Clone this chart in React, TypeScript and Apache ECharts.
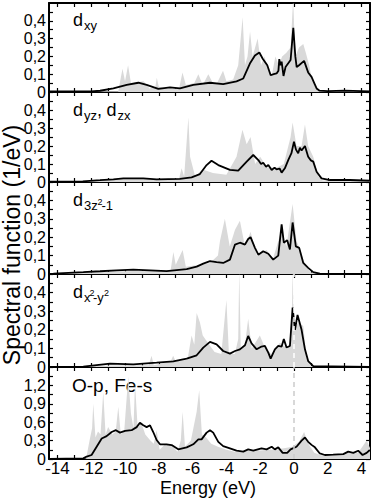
import React, { useEffect, useRef } from "react";
import * as echarts from "echarts";

const E_MIN = -14.5;
const E_MAX = 4.5;
const xTickValues = [-14, -13, -12, -11, -10, -9, -8, -7, -6, -5, -4, -3, -2, -1, 0, 1, 2, 3, 4];
const xLabelValues = [-14, -12, -10, -8, -6, -4, -2, 0, 2, 4];
const dTickValues = [0, 0.05, 0.1, 0.15, 0.2, 0.25, 0.3, 0.35, 0.4, 0.45];
const dLabelValues = [0, 0.1, 0.2, 0.3, 0.4];
const opTickValues = [0, 0.15, 0.3, 0.45, 0.6, 0.75, 0.9, 1.05, 1.2, 1.35];
const opLabelValues = [0, 0.3, 0.6, 0.9, 1.2];

const dxyLine = [[-14.5,0.003],[-12.0,0.004],[-11.48,0.007],[-10.69,0.02],[-9.9,0.04],[-9.21,0.052],[-8.72,0.04],[-8.03,0.018],[-7.34,0.026],[-6.75,0.02],[-5.96,0.04],[-4.97,0.052],[-4.19,0.044],[-3.4,0.06],[-3.0,0.076],[-2.61,0.16],[-2.31,0.205],[-2.05,0.222],[-1.85,0.187],[-1.58,0.15],[-1.38,0.094],[-1.2,0.1],[-1.03,0.104],[-0.92,0.12],[-0.87,0.185],[-0.8,0.15],[-0.73,0.17],[-0.62,0.09],[-0.5,0.14],[-0.35,0.16],[-0.2,0.18],[-0.04,0.36],[0.08,0.2],[0.16,0.14],[0.3,0.15],[0.6,0.175],[0.84,0.11],[1.04,0.085],[1.2,0.05],[1.34,0.02],[1.5,0.008],[2.0,0.005],[3.0,0.008],[4.5,0.004]];
const dxyFill = [[-14.5,0.003],[-10.4,0.004],[-10.15,0.13],[-10.0,0.06],[-9.82,0.15],[-9.65,0.05],[-9.3,0.055],[-8.9,0.06],[-8.55,0.02],[-8.2,0.03],[-8.12,0.08],[-8.0,0.03],[-7.5,0.02],[-6.8,0.02],[-6.6,0.11],[-6.4,0.04],[-5.9,0.05],[-5.66,0.1],[-5.4,0.04],[-5.07,0.1],[-4.8,0.05],[-4.55,0.05],[-4.2,0.12],[-4.0,0.06],[-3.6,0.07],[-3.3,0.15],[-3.04,0.42],[-2.9,0.15],[-2.75,0.2],[-2.6,0.34],[-2.45,0.2],[-2.15,0.3],[-1.95,0.15],[-1.75,0.2],[-1.5,0.12],[-1.3,0.1],[-1.1,0.2],[-0.9,0.15],[-0.7,0.2],[-0.45,0.22],[-0.2,0.25],[-0.05,0.52],[0.08,0.2],[0.3,0.25],[0.55,0.27],[0.7,0.22],[0.9,0.15],[1.04,0.08],[1.3,0.02],[1.55,0.005],[4.5,0.005]];

const dyzLine = [[-14.5,0.002],[-12.5,0.004],[-11.48,0.01],[-10.69,0.015],[-10.1,0.02],[-8.92,0.02],[-8.13,0.015],[-6.75,0.017],[-6.06,0.026],[-5.57,0.044],[-5.17,0.094],[-4.88,0.118],[-4.48,0.094],[-3.79,0.067],[-3.3,0.063],[-2.8,0.113],[-2.41,0.15],[-2.11,0.122],[-1.95,0.1],[-1.82,0.107],[-1.65,0.085],[-1.52,0.094],[-1.32,0.067],[-1.15,0.08],[-1.03,0.07],[-0.85,0.075],[-0.73,0.052],[-0.54,0.076],[-0.34,0.122],[-0.15,0.16],[0.0,0.224],[0.12,0.18],[0.25,0.16],[0.35,0.19],[0.45,0.175],[0.65,0.2],[0.84,0.14],[1.0,0.12],[1.14,0.113],[1.34,0.057],[1.63,0.02],[2.13,0.011],[3.31,0.011],[4.5,0.007]];
const dyzFill = [[-14.5,0.002],[-11.5,0.008],[-10,0.02],[-8,0.015],[-6.8,0.02],[-6.65,0.076],[-6.5,0.03],[-6.25,0.36],[-6.15,0.14],[-5.85,0.03],[-5.4,0.07],[-4.8,0.05],[-4.0,0.04],[-3.4,0.14],[-3.05,0.29],[-2.8,0.21],[-2.57,0.25],[-2.3,0.1],[-2.0,0.14],[-1.6,0.08],[-1.0,0.08],[-0.6,0.1],[-0.2,0.25],[-0.08,0.33],[0.15,0.2],[0.45,0.2],[0.65,0.32],[0.84,0.2],[1.14,0.14],[1.44,0.03],[1.7,0.008],[4.5,0.005]];

const d3zLine = [[-14.5,0.001],[-14.24,0.002],[-12.47,0.01],[-11.48,0.015],[-10.5,0.02],[-9.51,0.024],[-8.52,0.02],[-7.54,0.016],[-6.35,0.027],[-5.76,0.04],[-5.37,0.056],[-4.97,0.07],[-4.58,0.064],[-4.19,0.06],[-3.79,0.078],[-3.49,0.16],[-3.2,0.17],[-2.9,0.16],[-2.71,0.19],[-2.57,0.2],[-2.31,0.142],[-2.11,0.105],[-1.82,0.124],[-1.52,0.11],[-1.23,0.078],[-0.93,0.1],[-0.73,0.27],[-0.6,0.17],[-0.4,0.184],[-0.24,0.133],[-0.08,0.28],[0.11,0.15],[0.31,0.142],[0.55,0.06],[0.84,0.033],[1.14,0.01],[1.53,0.002],[4.5,0.0]];
const d3zFill = [[-14.5,0.002],[-10,0.015],[-8,0.02],[-7.3,0.02],[-7.14,0.12],[-7.0,0.05],[-6.59,0.13],[-6.4,0.04],[-5.6,0.05],[-4.97,0.06],[-4.5,0.1],[-4.38,0.18],[-4.09,0.3],[-3.8,0.15],[-3.49,0.24],[-3.2,0.29],[-2.9,0.15],[-2.57,0.23],[-2.2,0.1],[-1.62,0.13],[-1.25,0.08],[-0.73,0.24],[-0.45,0.15],[-0.08,0.38],[0.15,0.18],[0.42,0.12],[0.7,0.04],[1.0,0.008],[1.5,0.002],[4.5,0.002]];

const dx2Line = [[-14.5,0.0],[-12.47,0.002],[-10.89,0.018],[-9.51,0.014],[-8.13,0.023],[-7.14,0.03],[-6.35,0.045],[-5.76,0.063],[-5.37,0.104],[-4.97,0.135],[-4.58,0.122],[-4.19,0.086],[-3.79,0.072],[-3.49,0.086],[-3.2,0.095],[-2.9,0.117],[-2.71,0.167],[-2.51,0.127],[-2.21,0.095],[-1.92,0.11],[-1.72,0.113],[-1.52,0.077],[-1.38,0.045],[-1.13,0.095],[-0.93,0.113],[-0.73,0.11],[-0.6,0.15],[-0.44,0.105],[-0.24,0.113],[-0.08,0.32],[0.06,0.2],[0.21,0.28],[0.45,0.2],[0.65,0.095],[0.84,0.032],[1.14,0.005],[4.5,0.0]];
const dx2Fill = [[-14.5,0.002],[-10,0.01],[-8.6,0.01],[-8.43,0.06],[-8.3,0.01],[-7.3,0.03],[-7.15,0.06],[-7.0,0.03],[-6.3,0.04],[-6.06,0.17],[-5.9,0.12],[-5.76,0.29],[-5.57,0.24],[-5.4,0.17],[-5.1,0.13],[-4.7,0.08],[-4.3,0.07],[-4.0,0.36],[-3.85,0.07],[-3.5,0.07],[-3.3,0.15],[-3.24,0.52],[-3.15,0.1],[-2.9,0.12],[-2.71,0.26],[-2.5,0.1],[-2.02,0.17],[-1.7,0.1],[-1.35,0.07],[-0.83,0.13],[-0.4,0.1],[-0.15,0.15],[-0.08,0.52],[0.0,0.2],[0.25,0.24],[0.55,0.22],[0.75,0.05],[1.0,0.005],[4.5,0.002]];

const opLine = [[-14.5,0.003],[-12.47,0.01],[-12.27,0.04],[-11.98,0.065],[-11.68,0.2],[-11.38,0.335],[-11.09,0.373],[-10.79,0.44],[-10.54,0.47],[-10.3,0.43],[-10.0,0.46],[-9.61,0.47],[-9.31,0.52],[-9.12,0.59],[-8.92,0.55],[-8.72,0.52],[-8.52,0.55],[-8.33,0.44],[-8.13,0.31],[-7.93,0.24],[-7.54,0.24],[-7.24,0.227],[-6.85,0.157],[-6.35,0.19],[-5.96,0.24],[-5.66,0.32],[-5.47,0.32],[-5.17,0.43],[-4.97,0.47],[-4.78,0.43],[-4.48,0.28],[-4.19,0.21],[-3.79,0.173],[-3.4,0.135],[-3.0,0.12],[-2.71,0.157],[-2.41,0.135],[-1.92,0.173],[-1.62,0.157],[-1.32,0.2],[-1.13,0.157],[-0.93,0.19],[-0.67,0.1],[-0.4,0.1],[-0.2,0.157],[0.15,0.2],[0.45,0.3],[0.65,0.35],[0.84,0.28],[1.04,0.23],[1.24,0.19],[1.53,0.09],[1.83,0.065],[2.32,0.07],[2.92,0.08],[3.21,0.12],[3.51,0.1],[3.8,0.135],[4.06,0.065],[4.3,0.1],[4.49,0.146]];
const opFill = [[-14.5,0.005],[-12.3,0.01],[-12.1,0.3],[-11.95,0.5],[-11.88,0.9],[-11.75,0.35],[-11.6,0.45],[-11.45,0.4],[-11.29,1.09],[-11.15,0.4],[-11.0,0.52],[-10.75,0.4],[-10.55,0.45],[-10.4,0.85],[-10.25,0.4],[-10.05,0.45],[-9.81,1.34],[-9.65,0.74],[-9.5,0.5],[-9.41,1.23],[-9.25,0.5],[-9.05,0.6],[-8.8,0.4],[-8.5,0.3],[-8.3,0.25],[-8.13,0.47],[-7.95,0.15],[-7.6,0.25],[-7.2,0.22],[-6.9,0.12],[-6.7,0.3],[-6.59,0.77],[-6.45,0.2],[-6.1,0.3],[-5.76,0.77],[-5.61,1.12],[-5.45,0.4],[-5.2,0.35],[-4.9,0.25],[-4.5,0.2],[-4.0,0.15],[-3.5,0.12],[-3,0.12],[-2.5,0.14],[-2,0.14],[-1.5,0.15],[-1,0.16],[-0.5,0.18],[-0.1,0.2],[0.3,0.28],[0.6,0.44],[0.85,0.25],[1.2,0.1],[1.6,0.06],[2.5,0.07],[3.3,0.12],[3.8,0.1],[4.3,0.3],[4.5,0.18]];

const panels = [
  { line: dxyLine, fill: dxyFill, max: 0.5, ticks: dTickValues, labels: dLabelValues, zeroMark: "" },
  { line: dyzLine, fill: dyzFill, max: 0.5, ticks: dTickValues, labels: dLabelValues, zeroMark: "" },
  { line: d3zLine, fill: d3zFill, max: 0.5, ticks: dTickValues, labels: dLabelValues, zeroMark: "" },
  { line: dx2Line, fill: dx2Fill, max: 0.5, ticks: dTickValues, labels: dLabelValues, zeroMark: "#ffffff" },
  { line: opLine, fill: opFill, max: 1.5, ticks: opTickValues, labels: opLabelValues, zeroMark: "#cccccc" },
];

const FONT = "Liberation Sans, Arial, Helvetica, sans-serif";
const panelTops = [3, 92, 182, 274, 367];
const panelHeights = [89, 90, 92, 93, 92];
const GRID_LEFT = 49;
const GRID_WIDTH = 321;

function fmt(v: number) {
  if (Math.abs(v) < 1e-9) return "0";
  if (Number.isInteger(v)) return String(v);
  return v.toFixed(1).replace(".", ",");
}

function txt(text: string, x: number, baseline: number, size: number) {
  return {
    type: "text",
    x,
    y: baseline - 0.35 * size,
    style: { text, fontSize: size, fontFamily: FONT, fill: "#000", verticalAlign: "middle", align: "left" },
  };
}

export default function App() {
  const ref = useRef<HTMLDivElement>(null);
  useEffect(() => {
    if (!ref.current) return;
    const chart = echarts.init(ref.current, undefined, { renderer: "svg" });
    const grid: any[] = [];
    const xAxis: any[] = [];
    const yAxis: any[] = [];
    const series: any[] = [];
    const axisLine = { show: true, onZero: false, lineStyle: { color: "#000", width: 2 } };
    panels.forEach((p, i) => {
      grid.push({ left: GRID_LEFT, top: panelTops[i], width: GRID_WIDTH, height: panelHeights[i] });
      for (const pos of ["bottom", "top"]) {
        xAxis.push({
          type: "value", gridIndex: i, position: pos, min: E_MIN, max: E_MAX,
          axisLine,
          axisTick: { show: true, inside: true, length: 4, customValues: xTickValues, lineStyle: { color: "#000", width: 1.2 } },
          axisLabel: { show: pos === "bottom" && i === 4, customValues: xLabelValues, formatter: (v: number) => fmt(v), fontSize: 17, color: "#000", fontFamily: FONT, margin: 1 },
          splitLine: { show: false },
        });
      }
      for (const pos of ["left", "right"]) {
        yAxis.push({
          type: "value", gridIndex: i, position: pos, min: 0, max: p.max,
          axisLine,
          axisTick: { show: true, inside: true, length: 4, customValues: p.ticks, lineStyle: { color: "#000", width: 1.2 } },
          axisLabel: { show: pos === "left", customValues: p.labels, formatter: (v: number) => fmt(v), fontSize: 16, color: "#000", fontFamily: FONT, margin: 3 },
          splitLine: { show: false },
        });
      }
      series.push({
        type: "line", xAxisIndex: 2 * i, yAxisIndex: 2 * i, data: p.fill, showSymbol: false, symbol: "none",
        lineStyle: { width: 0, color: "#d9d9d9" }, areaStyle: { color: "#d9d9d9", opacity: 1 }, clip: true, z: 1,
        markLine: p.zeroMark ? {
          silent: true, symbol: "none", label: { show: false },
          lineStyle: { color: p.zeroMark, type: [5, 4], width: 1.5 },
          data: [{ xAxis: 0 }],
        } : undefined,
      });
      series.push({
        type: "line", xAxisIndex: 2 * i, yAxisIndex: 2 * i, data: p.line, showSymbol: false, symbol: "none",
        lineStyle: { width: 1.8, color: "#000" }, clip: true, z: 3,
      });
    });

    const graphic: any[] = [
      txt("d", 73, 26, 18), txt("xy", 84, 30, 13),
      txt("d", 73, 116, 18), txt("yz", 84, 120, 13), txt(",", 97, 116, 18), txt("d", 106.5, 116, 18), txt("zx", 117.5, 120, 13),
      txt("d", 73, 206.5, 18), txt("3z", 84, 210.5, 13), txt("2", 97.5, 205, 9), txt("-1", 101.5, 210.5, 13),
      txt("d", 73, 298, 18), txt("x", 84, 302, 13), txt("2", 89.5, 296, 9), txt("-y", 93, 302, 13), txt("2", 104, 296, 9),
      txt("O-p, Fe-s", 72, 392, 19),
      { type: "text", x: 208, y: 488, style: { text: "Energy (eV)", fontSize: 18, fontFamily: FONT, fill: "#000", align: "center", verticalAlign: "middle" } },
      { type: "text", x: 12, y: 245, rotation: Math.PI / 2, style: { text: "Spectral function (1/eV)", fontSize: 23, fontFamily: FONT, fill: "#000", align: "center", verticalAlign: "middle" } },
    ];

    chart.setOption({ animation: false, grid, xAxis, yAxis, series, graphic });
    return () => chart.dispose();
  }, []);
  return <div ref={ref} style={{ position: "fixed", left: 0, top: 0, width: 374, height: 500, background: "#fff" }} />;
}
